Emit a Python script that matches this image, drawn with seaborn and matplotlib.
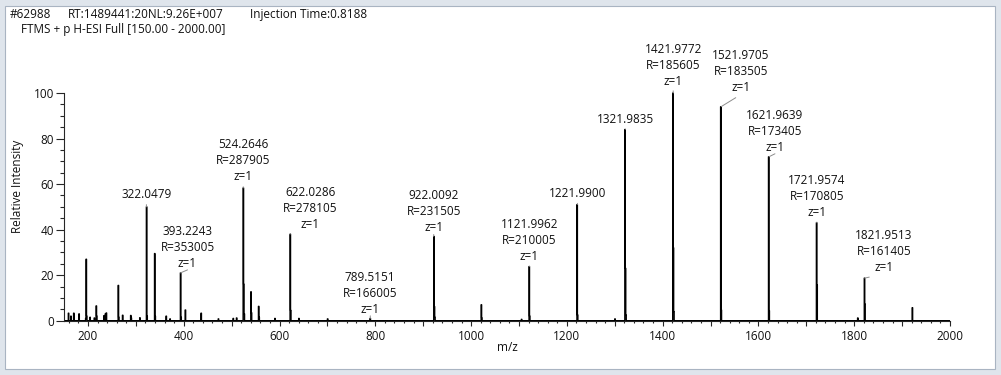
import numpy as np
import pandas as pd
import matplotlib.pyplot as plt
import matplotlib.ticker as mticker
from matplotlib.patches import Rectangle
import seaborn as sns

# centroid peaks (m/z, relative intensity)
peak_mz = [159.0, 164.5, 170.9, 181.0, 195.2, 196.0, 197.0, 204.0, 213.0, 217.0,
           218.0, 233.0, 236.0, 238.9, 263.0, 264.0, 272.0, 289.0, 290.0, 308.0,
           322.0479, 323.0, 339.0, 340.0, 363.0, 371.0, 393.2243, 394.2, 403.0, 436.0,
           472.0, 503.0, 510.0, 524.2646, 525.27, 526.3, 540.0, 541.0, 556.0, 557.0,
           590.0, 622.0286, 623.03, 640.0, 700.0, 789.5151, 922.0092, 923.01, 924.0,
           1021.9, 1022.9, 1105.0, 1121.9962, 1122.99, 1221.9900, 1222.99, 1300.0,
           1321.9835, 1322.98, 1323.98, 1421.9772, 1422.98, 1423.98, 1521.9705,
           1522.97, 1621.9639, 1622.96, 1721.9574, 1722.96, 1807.0, 1821.9513,
           1822.95, 1921.95]
peak_int = [3.3, 2.0, 3.3, 3.0, 1.0, 27.0, 2.0, 1.5, 1.2, 6.5,
            2.0, 2.2, 3.0, 3.4, 15.5, 1.5, 2.4, 2.3, 1.2, 1.3,
            50.0, 2.0, 29.5, 2.0, 2.0, 0.8, 21.0, 1.5, 4.7, 3.3,
            0.8, 1.0, 1.2, 58.3, 16.0, 3.0, 12.7, 3.5, 6.3, 1.5,
            1.0, 38.0, 4.5, 1.0, 0.8, 1.0, 37.0, 6.2, 1.5,
            7.0, 1.2, 0.6, 23.8, 2.0, 51.0, 2.5, 0.8,
            84.0, 23.0, 2.5, 100.0, 32.0, 4.0, 94.0,
            4.7, 72.0, 4.4, 43.0, 15.7, 1.2, 18.7,
            7.3, 5.7]

# annotated peaks
label_mz = [322.0479, 393.2243, 524.2646, 622.0286, 789.5151, 922.0092, 1121.9962,
            1221.9900, 1321.9835, 1421.9772, 1521.9705, 1621.9639, 1721.9574, 1821.9513]
label_res = [None, 353005, 287905, 278105, 166005, 231505, 210005,
             None, None, 185605, 183505, 173405, 170805, 161405]
label_z = [None, 1, 1, 1, 1, 1, 1, None, None, 1, 1, 1, 1, 1]

# label placement: pixel offset of the text box (bottom centre) from the peak top
label_dx = [0, 7, 0, 20, 0, 0, 0, 0, 0, 0, 20, 6, 0, 19]
label_dy = [5.5, 3, 4.5, 3.3, 2.6, 2, 3.5, 4.5, 3.5, 5.5, 12.3, 3, 4, 4.3]

sns.set_style('ticks')
plt.rcParams['font.family'] = ['Open Sans', 'DejaVu Sans']
plt.rcParams['font.size'] = 8.5
plt.rcParams['text.color'] = '#111111'

W, H = 1001, 375
fig = plt.figure(figsize=(W / 100, H / 100), dpi=100)
fig.patch.set_facecolor('#dfe5ec')
fig.patches.append(Rectangle((5 / W, 6 / H), 990 / W, 363 / H, transform=fig.transFigure,
                             facecolor='white', edgecolor='#a9b4c2', lw=0.8, zorder=-10))

ax = fig.add_axes([64 / W, 54.3 / H, 886 / W, 280.7 / H])
ax.set_facecolor('none')
ax.set_zorder(5)

df = pd.DataFrame({'mz': peak_mz, 'intensity': peak_int})
sns.histplot(data=df, x='mz', weights='intensity', binwidth=1, binrange=(150, 2000),
             element='step', fill=False, color='black', linewidth=1.0, ax=ax)

ax.set_xlim(150, 2000)
ax.set_ylim(0, 123.3)

sns.despine(ax=ax)
ax.spines['left'].set_bounds(0, 100)
ax.spines['left'].set_linewidth(0.8)
ax.spines['bottom'].set_linewidth(0.8)

ax.yaxis.set_major_locator(mticker.FixedLocator(range(0, 101, 20)))
ax.yaxis.set_minor_locator(mticker.FixedLocator(range(0, 101, 5)))
ax.xaxis.set_major_locator(mticker.MultipleLocator(100))
ax.xaxis.set_minor_locator(mticker.MultipleLocator(20))
ax.xaxis.set_major_formatter(mticker.FuncFormatter(
    lambda v, p: f'{int(v)}' if int(round(v)) % 200 == 0 else ''))
ax.tick_params(axis='y', which='major', length=6, width=0.8, pad=1, labelsize=8.5,
               labelcolor='#111111')
ax.tick_params(axis='y', which='minor', length=3, width=0.8)
ax.tick_params(axis='x', which='major', length=3.5, width=0.8, pad=3, labelsize=8.5,
               labelcolor='#111111')
ax.tick_params(axis='x', which='minor', length=1.5, width=0.8)

ax.set_xlabel('m/z', fontsize=8.5, labelpad=-1, color='#111111')
ax.set_ylabel('Relative Intensity', fontsize=8.5, color='#111111')
ax.yaxis.set_label_coords(-0.045, 0.477)

heights = dict(zip(peak_mz, peak_int))
for m, r, z, dx, dy in zip(label_mz, label_res, label_z, label_dx, label_dy):
    lines = [f'{m:.4f}']
    if r is not None:
        lines.append(f'R={r}')
    if z is not None:
        lines.append(f'z={z}')
    ax.annotate('\n'.join(lines), xy=(m, heights[m]), xytext=(dx, dy),
                textcoords='offset pixels', ha='center', va='bottom', fontsize=8.5,
                linespacing=1.3, multialignment='center', annotation_clip=False,
                arrowprops=dict(arrowstyle='-', color='#8c8c8c', lw=0.7,
                                shrinkA=0, shrinkB=0, relpos=(0.5, 0.0)))

# scan header
fig.text(10 / W, 1 - 14.3 / H, '#62988', va='center', fontsize=8.5)
fig.text(68 / W, 1 - 14.3 / H, 'RT:1489441:20NL:9.26E+007', va='center', fontsize=8.5)
fig.text(250 / W, 1 - 14.3 / H, 'Injection Time:0.8188', va='center', fontsize=8.5)
fig.text(20.7 / W, 1 - 29.3 / H, 'FTMS + p H-ESI Full [150.00 - 2000.00]', va='center', fontsize=8.5)

fig.savefig('out.png', dpi=100, facecolor=fig.get_facecolor())
